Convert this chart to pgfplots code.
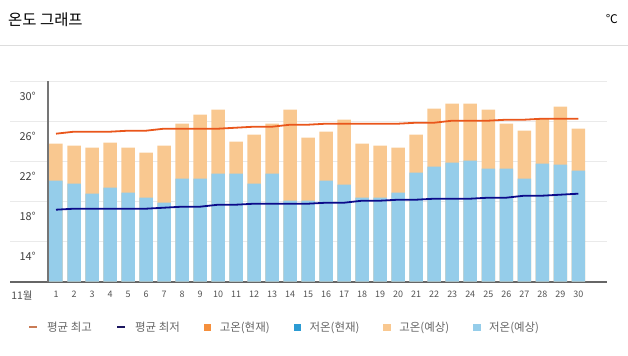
\documentclass[border=0pt]{standalone}
\usepackage{fontspec}
\setmainfont{Noto Sans CJK KR}
\usepackage{pgfplots}
\pgfplotsset{compat=1.18}
\usepackage{pgfplotstable}
\definecolor{hiline}{HTML}{E9561B}
\definecolor{loline}{HTML}{0B0B8A}
\definecolor{hilegend}{HTML}{C97B55}
\definecolor{lolegend}{HTML}{1B1660}
\definecolor{hinow}{HTML}{F58F3C}
\definecolor{lonow}{HTML}{2C9BD3}
\definecolor{hifc}{HTML}{F9C890}
\definecolor{lofc}{HTML}{95CDEA}
\definecolor{gridc}{HTML}{EAEAEA}
\definecolor{axisc}{HTML}{666666}
\definecolor{txtc}{HTML}{666666}
\definecolor{sepc}{HTML}{DDDDDD}

% day, forecast high, forecast low, average high, average low
\pgfplotstableread{
day hi lo avghi avglo
1 25.3 21.6 26.3 18.7
2 25.1 21.3 26.5 18.8
3 24.9 20.3 26.5 18.8
4 25.4 20.9 26.5 18.8
5 24.9 20.4 26.6 18.8
6 24.4 19.9 26.6 18.8
7 25.1 19.4 26.8 18.9
8 27.3 21.8 26.8 19.0
9 28.2 21.8 26.8 19.0
10 28.7 22.3 26.8 19.2
11 25.5 22.3 26.9 19.2
12 26.2 21.3 27.0 19.3
13 27.3 22.3 27.0 19.3
14 28.7 19.6 27.2 19.3
15 25.9 19.6 27.2 19.3
16 26.5 21.6 27.3 19.4
17 27.7 21.2 27.3 19.4
18 25.3 19.9 27.3 19.6
19 25.1 19.9 27.3 19.6
20 24.9 20.4 27.3 19.7
21 26.2 22.4 27.4 19.7
22 28.8 23.0 27.4 19.8
23 29.3 23.4 27.6 19.8
24 29.3 23.6 27.6 19.8
25 28.7 22.8 27.6 19.9
26 27.3 22.8 27.7 19.9
27 26.6 21.8 27.7 20.1
28 27.8 23.3 27.8 20.1
29 29.0 23.2 27.8 20.2
30 26.8 22.6 27.8 20.3
}\temps

\begin{document}
\begin{tikzpicture}[x=1bp,y=1bp]
\path[use as bounding box] (0,0) rectangle (628,355);
\node[anchor=west, inner sep=0pt, font=\fontsize{15.5}{16}\selectfont, text=black] at (8,335) {온도 그래프};
\node[anchor=east, inner sep=0pt, font=\fontsize{12}{12}\selectfont, text=black] at (618,336) {℃};
\draw[sepc, line width=1bp] (0,310) -- (628,310);

\begin{axis}[
  at={(10bp,73.3bp)}, anchor=south west,
  scale only axis, width=597bp, height=205bp,
  xmin=-1.554, xmax=31.594,
  ymin=11.5, ymax=32,
  axis y line*=left,
  y axis line style={draw=none},
  axis x line*=bottom,
  x axis line style={-, draw=axisc, line width=1.6bp},
  major tick length=0pt,
  xtick={1,...,30},
  xticklabels={1,2,3,4,5,6,7,8,9,10,11,12,13,14,15,16,17,18,19,20,21,22,23,24,25,26,27,28,29,30},
  xticklabel style={font=\fontsize{9}{9}\selectfont, text=txtc!80!black, inner sep=0pt, yshift=-9bp},
  extra x ticks={-0.888},
  extra x tick labels={11월},
  extra x tick style={xticklabel style={font=\fontsize{10.5}{11}\selectfont}},
  ytick={14,18,22,26,30},
  yticklabels={14°,18°,22°,26°,30°},
  yticklabel style={font=\fontsize{11}{11}\selectfont, text=black!75, anchor=east, inner sep=0pt, xshift=26bp},
  extra y ticks={15.5,19.5,23.5,27.5,31.5},
  extra y tick labels={},
  extra y tick style={grid=major, major grid style={gridc, line width=1.2bp}},
  legend columns=6,
  legend style={draw=none, fill=none, inner sep=0pt, outer sep=0pt,
    at={(axis description cs:0,0)}, anchor=west, xshift=18bp, yshift=-45.5bp,
    font=\fontsize{11.5}{12}\selectfont, text=txtc,
    nodes={inner sep=0pt, anchor=west},
    /tikz/every odd column/.append style={column sep=9bp},
    /tikz/every even column/.append style={column sep=24bp}},
  legend cell align=left,
]
% forecast high bars, then forecast low bars over them
\addplot[ybar, bar width=13.5bp, bar shift=0pt, fill=hifc, draw=none, forget plot] table[x=day, y=hi] {\temps};
\addplot[ybar, bar width=13.5bp, bar shift=0pt, fill=lofc, draw=none, forget plot] table[x=day, y=lo] {\temps};
% y axis line
\draw[axisc!90, line width=1.4bp] (axis cs:0.556,11.5) -- (axis cs:0.556,31.6);
% average lines
\addplot[hiline, line width=1.8bp, no marks, forget plot] table[x=day, y=avghi] {\temps};
\addplot[loline, line width=1.8bp, no marks, forget plot] table[x=day, y=avglo] {\temps};

\addlegendimage{legend image code/.code={\draw[hilegend, line width=2.2bp] (0bp,0bp) -- (8bp,0bp);}}
\addlegendentry{평균 최고}
\addlegendimage{legend image code/.code={\draw[lolegend, line width=2.2bp] (0bp,0bp) -- (8bp,0bp);}}
\addlegendentry{평균 최저}
\addlegendimage{legend image code/.code={\fill[hinow] (0bp,-3.2bp) rectangle (6.5bp,3.2bp);}}
\addlegendentry{고온(현재)}
\addlegendimage{legend image code/.code={\fill[lonow] (0bp,-3.2bp) rectangle (6.5bp,3.2bp);}}
\addlegendentry{저온(현재)}
\addlegendimage{legend image code/.code={\fill[hifc] (0bp,-3.2bp) rectangle (6.5bp,3.2bp);}}
\addlegendentry{고온(예상)}
\addlegendimage{legend image code/.code={\fill[lofc] (0bp,-3.2bp) rectangle (6.5bp,3.2bp);}}
\addlegendentry{저온(예상)}
\end{axis}
\end{tikzpicture}
\end{document}
